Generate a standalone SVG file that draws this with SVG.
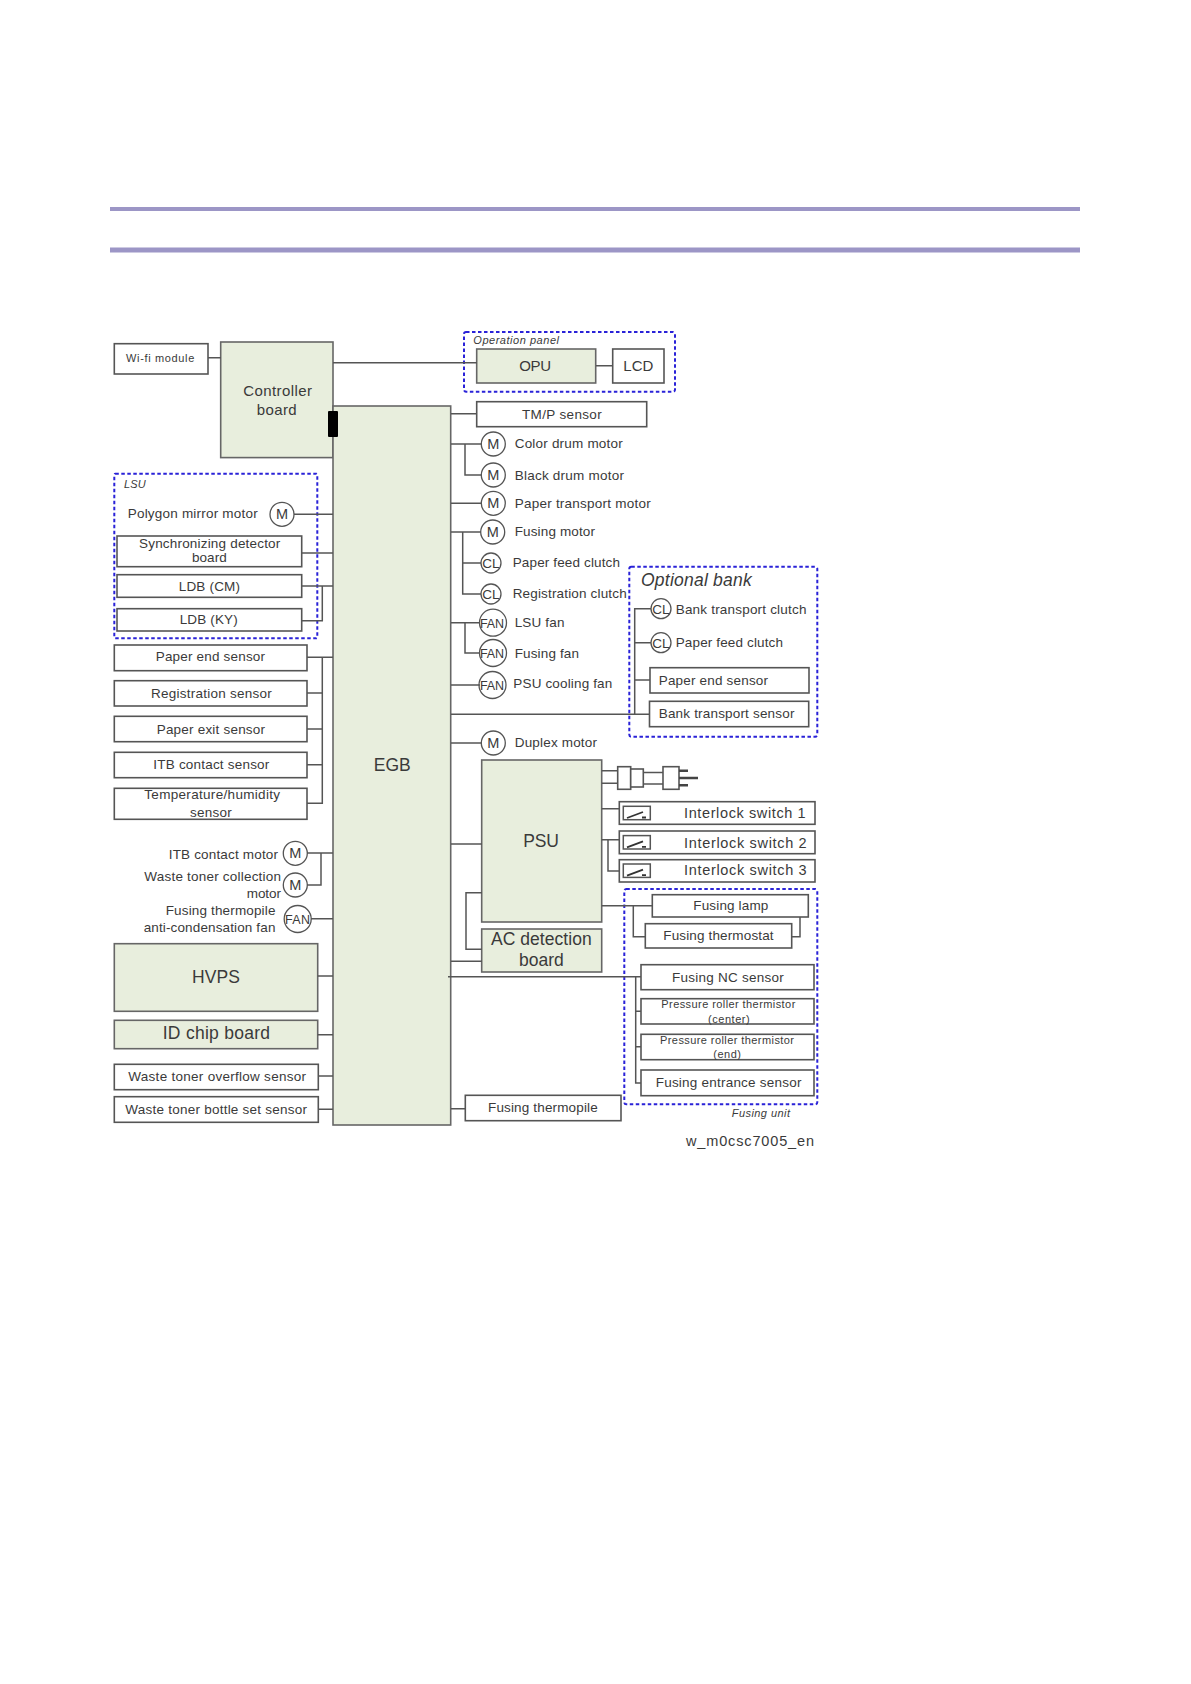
<svg xmlns="http://www.w3.org/2000/svg" width="1191" height="1684" viewBox="0 0 1191 1684">
<style>
text{font-family:"Liberation Sans",Arial,sans-serif;fill:#3a3a3a;font-size:13.5px}
.s{font-size:11px}.i{font-style:italic}
.b{font-size:15px}.l{font-size:17.5px}
.g{font-size:14.500px}.f{font-size:12.500px}
.c{text-anchor:middle}
.box{fill:#fff;stroke:#555;stroke-width:1.6}
.grn{fill:#e8eedd;stroke:#666;stroke-width:1.6}
.cir{fill:#fff;stroke:#555;stroke-width:1.3}
.dash{fill:none;stroke:#2a22d8;stroke-width:2;stroke-dasharray:3.5 2.5}
.con path{fill:none;stroke:#555;stroke-width:1.5}
.con path.pin{stroke-width:2.500;stroke:#444}
.rule{fill:#9c96c6}
.sw{fill:#fff;stroke:#555;stroke-width:1.5}
.swl{fill:none;stroke:#333;stroke-width:1.8}
</style>
<rect class="rule" x="110" y="207" width="970" height="4"/>
<rect class="rule" x="110" y="247.500" width="970" height="5"/>

<g id="rack-controller"><rect class="grn" x="220.700" y="342" width="112.300" height="115.600"/><text x="243.300" y="396" class="b" textLength="68.700">Controller</text><text x="256.700" y="414.700" class="b" textLength="40">board</text></g>
<g id="wifi"><rect class="box" x="114.300" y="343.700" width="93.700" height="30.300"/><text x="126" y="362" class="s" textLength="68.300">Wi-fi module</text></g>
<g id="egb"><rect class="grn" x="333" y="406" width="117.700" height="719"/><text x="373.700" y="770.700" class="l" textLength="37">EGB</text></g>
<g id="connector-block"><rect x="328" y="411" width="10" height="26" rx="1" fill="#000"/></g>

<g id="operation-panel"><rect class="dash" x="464" y="332" width="211" height="59.700" rx="2"/><text x="473.300" y="344.300" class="s i" textLength="85.700">Operation panel</text></g>
<g id="opu"><rect class="grn" x="476.700" y="349" width="119" height="34"/><text x="519.300" y="371" class="b" textLength="31.700">OPU</text></g>
<g id="lcd"><rect class="box" x="612.700" y="349" width="51.300" height="34"/><text x="623.300" y="371" class="b" textLength="30">LCD</text></g>
<g id="tmp"><rect class="box" x="476.700" y="401.700" width="170" height="25"/><text x="522" y="418.700" textLength="79.700">TM/P sensor</text></g>

<g id="color-drum"><circle class="cir" cx="493.300" cy="444" r="12"/><text x="493.300" y="449" class="c g">M</text><text x="514.700" y="448" textLength="108">Color drum motor</text></g>
<g id="black-drum"><circle class="cir" cx="493.300" cy="475" r="12"/><text x="493.300" y="480" class="c g">M</text><text x="514.700" y="480" textLength="109.300">Black drum motor</text></g>
<g id="paper-transport"><circle class="cir" cx="493.300" cy="503.300" r="12"/><text x="493.300" y="508.300" class="c g">M</text><text x="514.700" y="507.700" textLength="136">Paper transport motor</text></g>
<g id="fusing-motor"><circle class="cir" cx="492.700" cy="532" r="12"/><text x="492.700" y="537" class="c g">M</text><text x="514.700" y="536.300" textLength="80.300">Fusing motor</text></g>
<g id="paper-feed-clutch"><circle class="cir" cx="491" cy="563" r="10"/><text x="491" y="568" class="c">CL</text><text x="512.700" y="567.300" textLength="107.300">Paper feed clutch</text></g>
<g id="registration-clutch"><circle class="cir" cx="491" cy="594" r="10"/><text x="491" y="599" class="c">CL</text><text x="512.700" y="598.300" textLength="114">Registration clutch</text></g>
<g id="lsu-fan"><circle class="cir" cx="493" cy="622.700" r="13.500"/><text x="480" y="627.500" class="f" textLength="24">FAN</text><text x="514.700" y="627" textLength="49.700">LSU fan</text></g>
<g id="fusing-fan"><circle class="cir" cx="493" cy="653" r="13.500"/><text x="480" y="657.800" class="f" textLength="24">FAN</text><text x="514.700" y="658" textLength="64.300">Fusing fan</text></g>
<g id="psu-fan"><circle class="cir" cx="492.500" cy="685" r="13.500"/><text x="480" y="689.800" class="f" textLength="24">FAN</text><text x="513.300" y="688.300" textLength="99">PSU cooling fan</text></g>
<g id="duplex"><circle class="cir" cx="493.300" cy="743" r="12"/><text x="493.300" y="748" class="c g">M</text><text x="514.700" y="747" textLength="82.300">Duplex motor</text></g>

<g id="optional-bank"><rect class="dash" x="629.300" y="566.700" width="188" height="170" rx="2"/><text x="641" y="585.700" class="i l" textLength="110.700">Optional bank</text></g>
<g id="bank-clutch"><circle class="cir" cx="661" cy="608.700" r="10"/><text x="661" y="613.700" class="c">CL</text><text x="675.700" y="614" textLength="130.700">Bank transport clutch</text></g>
<g id="bank-feed"><circle class="cir" cx="661" cy="642.700" r="10"/><text x="661" y="647.700" class="c">CL</text><text x="675.700" y="647.300" textLength="107.300">Paper feed clutch</text></g>
<g id="bank-paper-end"><rect class="box" x="650" y="667.700" width="159" height="25.300"/><text x="658.700" y="685" textLength="109.300">Paper end sensor</text></g>
<g id="bank-transport"><rect class="box" x="649.500" y="701.300" width="159.200" height="25.400"/><text x="658.700" y="718.300" textLength="135.700">Bank transport sensor</text></g>

<g id="lsu"><rect class="dash" x="114.300" y="473.700" width="203" height="164.600" rx="1"/><text x="124" y="488" class="s i" textLength="21.700">LSU</text></g>
<g id="polygon"><text x="127.700" y="517.700" textLength="130">Polygon mirror motor</text><circle class="cir" cx="282" cy="514.300" r="12"/><text x="282" y="519.300" class="c g">M</text></g>
<g id="sync"><rect class="box" x="117" y="536" width="184.700" height="30.700"/><text x="139" y="547.700" textLength="141.300">Synchronizing detector</text><text x="192" y="561.700" textLength="34.700">board</text></g>
<g id="ldb-cm"><rect class="box" x="117" y="574.700" width="184.700" height="22.600"/><text x="178.700" y="590.700" textLength="61.300">LDB (CM)</text></g>
<g id="ldb-ky"><rect class="box" x="117" y="608.700" width="184.700" height="22.300"/><text x="179.700" y="624" textLength="58">LDB (KY)</text></g>

<g id="paper-end"><rect class="box" x="114.300" y="645" width="192.700" height="25.700"/><text x="155.700" y="661.300" textLength="109.300">Paper end sensor</text></g>
<g id="registration"><rect class="box" x="114.300" y="680.700" width="192.700" height="25.300"/><text x="151" y="698.300" textLength="120.700">Registration sensor</text></g>
<g id="paper-exit"><rect class="box" x="114.300" y="716.300" width="192.700" height="25.400"/><text x="156.700" y="733.700" textLength="108.300">Paper exit sensor</text></g>
<g id="itb-sensor"><rect class="box" x="114.300" y="752.300" width="192.700" height="25.400"/><text x="153.300" y="769.300" textLength="116">ITB contact sensor</text></g>
<g id="temp"><rect class="box" x="114.300" y="788.300" width="192.700" height="31"/><text x="144.300" y="799.300" textLength="135.700">Temperature/humidity</text><text x="190" y="816.700" textLength="41.700">sensor</text></g>

<g id="itb-motor"><text x="168.700" y="859" textLength="109.300">ITB contact motor</text><circle class="cir" cx="295.300" cy="853.300" r="12"/><text x="295.300" y="858.300" class="c g">M</text></g>
<g id="waste-motor"><text x="144.300" y="881" textLength="136.700">Waste toner collection</text><text x="246.700" y="897.700" textLength="34.300">motor</text><circle class="cir" cx="295.300" cy="885" r="12"/><text x="295.300" y="890" class="c g">M</text></g>
<g id="anti-fan"><text x="165.700" y="915.300" textLength="109.700">Fusing thermopile</text><text x="143.700" y="932" textLength="131.700">anti-condensation fan</text><circle class="cir" cx="297.700" cy="919" r="13.500"/><text x="285" y="923.800" class="f" textLength="25">FAN</text></g>
<g id="hvps"><rect class="grn" x="114.300" y="943.700" width="203.400" height="67.600"/><text x="192" y="982.700" class="l" textLength="48">HVPS</text></g>
<g id="id-chip"><rect class="grn" x="114.300" y="1020.300" width="203.400" height="28.400"/><text x="162.700" y="1039.300" class="l" textLength="107.300">ID chip board</text></g>
<g id="waste-overflow"><rect class="box" x="114.300" y="1064.300" width="204" height="25.400"/><text x="128.300" y="1081.300" textLength="177.700">Waste toner overflow sensor</text></g>
<g id="waste-bottle"><rect class="box" x="114.300" y="1096.700" width="204" height="25.600"/><text x="125.300" y="1113.700" textLength="181.700">Waste toner bottle set sensor</text></g>

<g id="psu"><rect class="grn" x="481.700" y="760" width="120" height="162"/><text x="523.300" y="846.700" class="l" textLength="35.700">PSU</text></g>
<g id="ac"><rect class="grn" x="481.700" y="929" width="120" height="43"/><text x="491" y="945" class="l" textLength="100.700">AC detection</text><text x="519" y="966" class="l" textLength="44.700">board</text></g>
<g id="plug"><rect class="box" x="617.700" y="766.700" width="13" height="22.600"/><rect class="box" x="630.700" y="769" width="12.600" height="18"/><rect class="box" x="663" y="766.700" width="16" height="22.600"/></g>

<g id="interlock-1"><rect class="box" x="619.300" y="801.700" width="195.700" height="22.600"/><rect class="sw" x="623.300" y="806.300" width="27" height="13.400"/><path class="swl" d="M627 818L643 812M642 817.500h4"/><text x="684" y="818" class="g" textLength="121.700">Interlock switch 1</text></g>
<g id="interlock-2"><rect class="box" x="619.300" y="831" width="195.700" height="22.700"/><rect class="sw" x="623.300" y="835.600" width="27" height="13.400"/><path class="swl" d="M627 847.300L643 841.300M642 846.800h4"/><text x="684" y="848" class="g" textLength="122.700">Interlock switch 2</text></g>
<g id="interlock-3"><rect class="box" x="619.300" y="859.700" width="195.700" height="22.300"/><rect class="sw" x="623.300" y="864" width="27" height="13.400"/><path class="swl" d="M627 875.700L643 869.700M642 875.200h4"/><text x="684" y="875.300" class="g" textLength="122.700">Interlock switch 3</text></g>

<g id="fusing-unit"><rect class="dash" x="624.300" y="889" width="193" height="215.300" rx="2"/><text x="731.700" y="1116.700" class="s i" textLength="58.300">Fusing unit</text></g>
<g id="fusing-lamp"><rect class="box" x="652.300" y="894.700" width="156" height="22.300"/><text x="693.300" y="910" textLength="75">Fusing lamp</text></g>
<g id="thermostat"><rect class="box" x="645.300" y="923.700" width="146.400" height="24.300"/><text x="663.300" y="940" textLength="110.300">Fusing thermostat</text></g>
<g id="nc-sensor"><rect class="box" x="641" y="964.700" width="173" height="25"/><text x="672" y="982" textLength="111.700">Fusing NC sensor</text></g>
<g id="pr-center"><rect class="box" x="641" y="998.700" width="173" height="25.300"/><text x="661.300" y="1008.300" class="s" textLength="134">Pressure roller thermistor</text><text x="708" y="1022.700" class="s" textLength="41.700">(center)</text></g>
<g id="pr-end"><rect class="box" x="641" y="1034.300" width="173" height="25.400"/><text x="660" y="1044" class="s" textLength="134">Pressure roller thermistor</text><text x="713.300" y="1058.300" class="s" textLength="27.700">(end)</text></g>
<g id="entrance"><rect class="box" x="641" y="1070" width="173" height="25.700"/><text x="655.700" y="1087.300" textLength="145.700">Fusing entrance sensor</text></g>
<g id="thermopile"><rect class="box" x="465.300" y="1095.300" width="155.700" height="25.400"/><text x="488" y="1112.300" textLength="109.700">Fusing thermopile</text></g>
<text x="686" y="1145.700" class="g" textLength="128">w_m0csc7005_en</text>

<g id="connectors" class="con">
<path d="M208 357.700H221M333 362.700H477M596 365.700H613"/>
<path d="M451 413.700H477M451 444H482M465 444V475H482M451 503.300H482M451 532H481M462.700 532V594H481M462.700 563H481"/>
<path d="M451 622.700H480M465 622.700V653H480M451 685H480M451 714.300H650M634.700 714.300V608.700H651M634.700 642.700H651M634.700 680H650M451 743H482"/>
<path d="M294 514.300H333M301.700 553H333M301.700 586H333M301.700 620.700H322.300V586"/>
<path d="M307 657.300H333M307 693H322.300M307 729H322.300M307 764.700H322.300M307 803.300H322.300V657.300"/>
<path d="M307 853H333M307 885H321V853M311 918.700H333M317.700 976H333M317.700 1034.700H333M318.300 1076H333M318.300 1109.300H333"/>
<path d="M451 844H482M482 892.700H466V949.300H482M451 961.300H482M448 976.700H641M635.700 976.700V1083H641M635.700 1011.300H641M635.700 1046.700H641M451 1108.700H465"/>
<path d="M601.700 770.700H618M601.700 783.300H618M643.300 772.500H663M643.300 784H663"/>
<path class="pin" d="M679 770.700H688M679 778H698M679 785.300H688"/>
<path d="M601.700 808.700H619.300M601.700 839.700H619.300M608 839.700V871H619.300"/>
<path d="M601.700 905.700H652.300M633.300 905.700V936.700H645.300M800 917V936.700H791.700"/>
</g>
</svg>
